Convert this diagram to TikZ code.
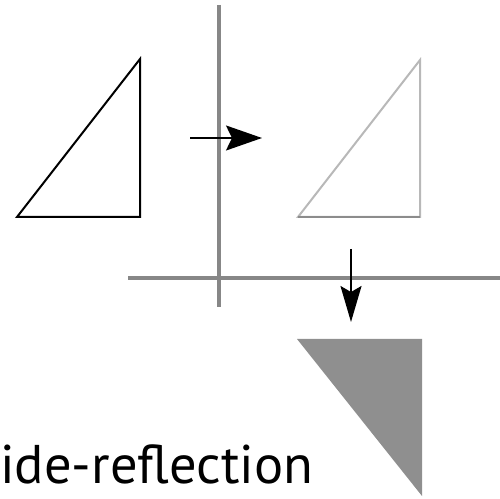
\documentclass[tikz,border=0pt]{standalone}
\usepackage{fontspec}
\setmainfont{PT Sans}
\usetikzlibrary{arrows.meta}
\begin{document}
\begin{tikzpicture}[x=0.02cm,y=-0.02cm,
  axis/.style={draw=black!47,line width=3.2*0.02cm},
  tri/.style={line width=2*0.02cm,line join=miter},
  mover/.style={line width=1.8*0.02cm,-{Stealth[length=0.72cm,width=0.5cm,inset=0.12cm]}},
]
\useasboundingbox (0,0) rectangle (500,499);
% axes
\draw[axis] (219,5) coordinate (vt) -- (219,307) coordinate (vb);
\draw[axis] (128,278) coordinate (hl) -- (500,278) coordinate (hr);
% original triangle
\draw[tri,draw=black] (17,217) -- (140,217) -- (140,59) -- cycle;
% translated triangle
\draw[tri,draw=black!28] (298,217) -- (420,217) -- (420,60) -- cycle;
\draw[tri,draw=black!45] (298,217) -- (420,217);
% reflected triangle
\fill[black!44] (297,339) -- (422,339) -- (422,496) -- cycle;
% arrows
\coordinate (a1) at (190,138);
\coordinate (a2) at (262,138);
\draw[mover] (a1) -- (a2);
\coordinate (b1) at (351,249);
\coordinate (b2) at (351,322);
\draw[mover,-{Stealth[length=0.72cm,width=0.42cm,inset=0.12cm]}] (b1) -- (b2);
% label
\node[anchor=base west,inner sep=0pt,font=\fontsize{31}{31}\selectfont] (lab) at (0,483) {ide-reflection};
\end{tikzpicture}
\end{document}
